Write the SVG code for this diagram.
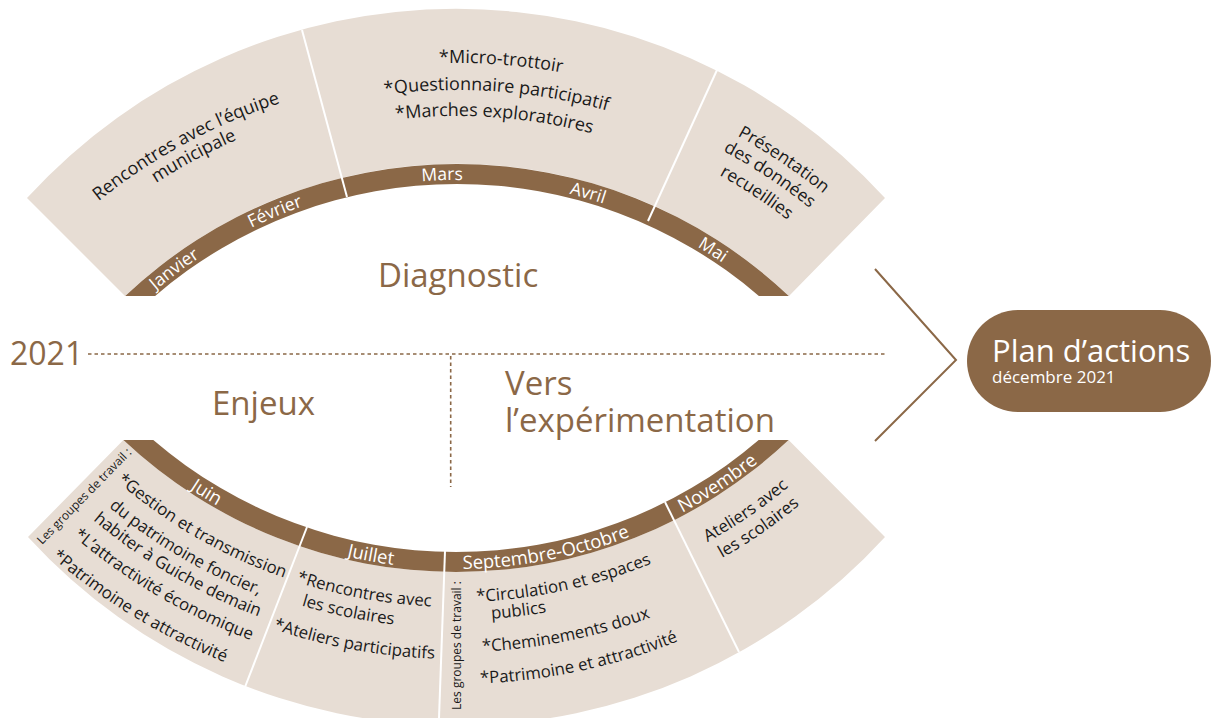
<svg xmlns="http://www.w3.org/2000/svg" xmlns:xlink="http://www.w3.org/1999/xlink" width="1212" height="718" viewBox="0 0 1212 718">
<style>
text{font-family:'Open Sans','Noto Sans','Liberation Sans',sans-serif}
.beige{fill:#E7DDD4}
.band{fill:#8B6847}
.div{stroke:#fff;stroke-width:2;fill:none}
.mt{fill:#fff;font-size:17.5px}
.mb{fill:#fff;font-size:18.5px}
.bt{fill:#1a1a1a;font-size:18px}
.br{fill:#1a1a1a;font-size:17.5px}
.bb{fill:#1a1a1a;font-size:16.8px}
.sm{fill:#1a1a1a;font-size:12px}
.title{fill:#8B6847;font-size:33px}
.dot{stroke:#8B6847;stroke-width:1.6;stroke-dasharray:3.5 3;fill:none}
.chev{stroke:#8B6847;stroke-width:2;fill:none}
</style>
<defs>
<path id="t467" d="M 99.26,346.82 A 467 467 0 0 1 814.74,346.82"/>
<path id="t584" d="M 9.63,271.61 A 584 584 0 0 1 904.37,271.61"/>
<path id="t557" d="M 30.32,288.97 A 557 557 0 0 1 883.68,288.97"/>
<path id="t531" d="M 50.23,305.68 A 531 531 0 0 1 863.77,305.68"/>
<path id="t572" d="M 18.83,279.32 A 572 572 0 0 1 895.17,279.32"/>
<path id="t553" d="M 33.38,291.54 A 553 553 0 0 1 880.62,291.54"/>
<path id="t583" d="M 10.40,272.25 A 583 583 0 0 1 903.60,272.25"/>
<path id="t563" d="M 25.72,285.11 A 563 563 0 0 1 888.28,285.11"/>
<path id="t540" d="M 43.34,299.89 A 540 540 0 0 1 870.66,299.89"/>
<path id="b482" d="M 86.77,396.82 A 482 482 0 0 0 825.23,396.82"/>
<path id="b515" d="M 61.49,418.04 A 515 515 0 0 0 850.51,418.04"/>
<path id="b520" d="M 57.66,421.25 A 520 520 0 0 0 854.34,421.25"/>
<path id="b545" d="M 38.51,437.32 A 545 545 0 0 0 873.49,437.32"/>
<path id="b565" d="M 23.19,450.18 A 565 565 0 0 0 888.81,450.18"/>
<path id="b590" d="M 4.04,466.25 A 590 590 0 0 0 907.96,466.25"/>
<path id="b620" d="M -18.94,485.53 A 620 620 0 0 0 930.94,485.53"/>
<path id="b541" d="M 41.57,434.75 A 541 541 0 0 0 870.43,434.75"/>
<path id="b572" d="M 17.83,454.68 A 572 572 0 0 0 894.17,454.68"/>
<path id="b533" d="M 47.70,429.61 A 533 533 0 0 0 864.30,429.61"/>
<path id="b597" d="M -1.33,470.75 A 597 597 0 0 0 913.33,470.75"/>
</defs>
<rect width="1212" height="718" fill="#fff"/>

<g id="connectors">
<line class="dot" x1="88" y1="354" x2="885" y2="354"/>
<line class="dot" x1="450.7" y1="356" x2="450.7" y2="487"/>
<polyline class="chev" points="875,269 956,360 875,441"/>
</g>

<g id="diagnostic">
<path class="beige" d="M 27,198 A 581 581 0 0 1 885,198 L 789,296 A 483 483 0 0 0 125,296 Z"/>
<path class="band" d="M 125.2,296 A 483 483 0 0 1 788.8,296 L 758.9,296 A 463 463 0 0 0 155.1,296 Z"/>
<line class="div" x1="302" y1="30" x2="347" y2="197"/>
<line class="div" x1="717" y1="70" x2="648" y2="221"/>
<text class="mt" text-anchor="middle"><textPath xlink:href="#t467" startOffset="13.2%">Janvier</textPath></text>
<text class="mt" text-anchor="middle"><textPath xlink:href="#t467" startOffset="27.3%">Février</textPath></text>
<text class="mt" text-anchor="middle"><textPath xlink:href="#t467" startOffset="48.2%">Mars</textPath></text>
<text class="mt" text-anchor="middle"><textPath xlink:href="#t467" startOffset="66.1%">Avril</textPath></text>
<text class="mt" text-anchor="middle"><textPath xlink:href="#t467" startOffset="82.8%">Mai</textPath></text>
<g id="seg-janvier-fevrier">
<text class="bt" text-anchor="middle"><textPath xlink:href="#t572" startOffset="21.6%">Rencontres avec l’équipe</textPath></text>
<text class="bt" text-anchor="middle"><textPath xlink:href="#t553" startOffset="21.8%">municipale</textPath></text>
</g>
<g id="seg-mars-avril">
<text class="bt" text-anchor="middle"><textPath xlink:href="#t584" startOffset="54.3%">*Micro-trottoir</textPath></text>
<text class="bt" text-anchor="middle"><textPath xlink:href="#t557" startOffset="54.1%">*Questionnaire participatif</textPath></text>
<text class="bt" text-anchor="middle"><textPath xlink:href="#t531" startOffset="54.05%">*Marches exploratoires</textPath></text>
</g>
<g id="seg-mai">
<text class="br" text-anchor="middle"><textPath xlink:href="#t583" startOffset="83.85%">Présentation</textPath></text>
<text class="br" text-anchor="middle"><textPath xlink:href="#t563" startOffset="83.5%">des données</textPath></text>
<text class="br" text-anchor="middle"><textPath xlink:href="#t540" startOffset="83.4%">recueillies</textPath></text>
</g>
<text class="title" x="378" y="287">Diagnostic</text>
</g>

<g id="enjeux-experimentation">
<path class="beige" d="M 28,537 L 123.4,440 A 485 485 0 0 0 788.6,440 L 885,537 A 581 581 0 0 1 28,537 Z"/>
<path class="band" d="M 123.4,440 A 485 485 0 0 0 788.6,440 L 758.7,440 A 465 465 0 0 1 153.3,440 Z"/>
<line class="div" x1="307" y1="527" x2="245" y2="687"/>
<line class="div" x1="445" y1="551" x2="439" y2="718"/>
<line class="div" x1="665" y1="502" x2="739" y2="652"/>
<text class="mb" text-anchor="middle"><textPath xlink:href="#b482" startOffset="18.4%">Juin</textPath></text>
<text class="mb" text-anchor="middle"><textPath xlink:href="#b482" startOffset="39.7%">Juillet</textPath></text>
<text class="mb" text-anchor="middle"><textPath xlink:href="#b482" startOffset="61%">Septembre-Octobre</textPath></text>
<text class="mb" text-anchor="middle"><textPath xlink:href="#b482" startOffset="83.4%">Novembre</textPath></text>
<g id="seg-juin">
<text class="sm" transform="translate(42,545) rotate(-45.6)">Les groupes de travail :</text>
<text class="bb" text-anchor="middle"><textPath xlink:href="#b520" startOffset="20%">*Gestion et transmission</textPath></text>
<text class="bb" text-anchor="middle"><textPath xlink:href="#b545" startOffset="19.6%">du patrimoine foncier,</textPath></text>
<text class="bb" text-anchor="middle"><textPath xlink:href="#b565" startOffset="19.8%">habiter à Guiche demain</textPath></text>
<text class="bb" text-anchor="middle"><textPath xlink:href="#b590" startOffset="19.6%">*L’attractivité économique</textPath></text>
<text class="bb" text-anchor="middle"><textPath xlink:href="#b620" startOffset="18.7%">*Patrimoine et attractivité</textPath></text>
</g>
<g id="seg-juillet">
<text class="bb" text-anchor="middle"><textPath xlink:href="#b520" startOffset="39.7%">*Rencontres avec</textPath></text>
<text class="bb" text-anchor="middle"><textPath xlink:href="#b541" startOffset="38.4%">les scolaires</textPath></text>
<text class="bb" text-anchor="middle"><textPath xlink:href="#b572" startOffset="39.6%">*Ateliers participatifs</textPath></text>
</g>
<g id="seg-septembre-octobre">
<text class="sm" text-anchor="middle" transform="translate(461,645.5) rotate(-90)">Les groupes de travail :</text>
<text class="bb" text-anchor="middle"><textPath xlink:href="#b515" startOffset="62.3%">*Circulation et espaces</textPath></text>
<text class="bb" text-anchor="middle"><textPath xlink:href="#b533" startOffset="56.8%">publics</textPath></text>
<text class="bb" text-anchor="middle"><textPath xlink:href="#b565" startOffset="61.4%">*Cheminements doux</textPath></text>
<text class="bb" text-anchor="middle"><textPath xlink:href="#b597" startOffset="62.1%">*Patrimoine et attractivité</textPath></text>
</g>
<g id="seg-novembre">
<text class="bb" text-anchor="middle"><textPath xlink:href="#b520" startOffset="84.35%">Ateliers avec</textPath></text>
<text class="bb" text-anchor="middle"><textPath xlink:href="#b541" startOffset="84.45%">les scolaires</textPath></text>
</g>
<text class="title" x="212" y="415">Enjeux</text>
<text class="title" x="505" y="395">Vers</text>
<text class="title" x="505" y="432">l’expérimentation</text>
</g>

<g id="year">
<text class="title" x="10" y="365" style="font-size:32px">2021</text>
</g>

<g id="plan-actions">
<rect x="967" y="310" width="244" height="102" rx="51" ry="51" fill="#8B6847"/>
<text x="992" y="362" fill="#fff" style="font-size:31px">Plan d’actions</text>
<text x="992" y="383" fill="#fff" style="font-size:17px">décembre 2021</text>
</g>
</svg>
